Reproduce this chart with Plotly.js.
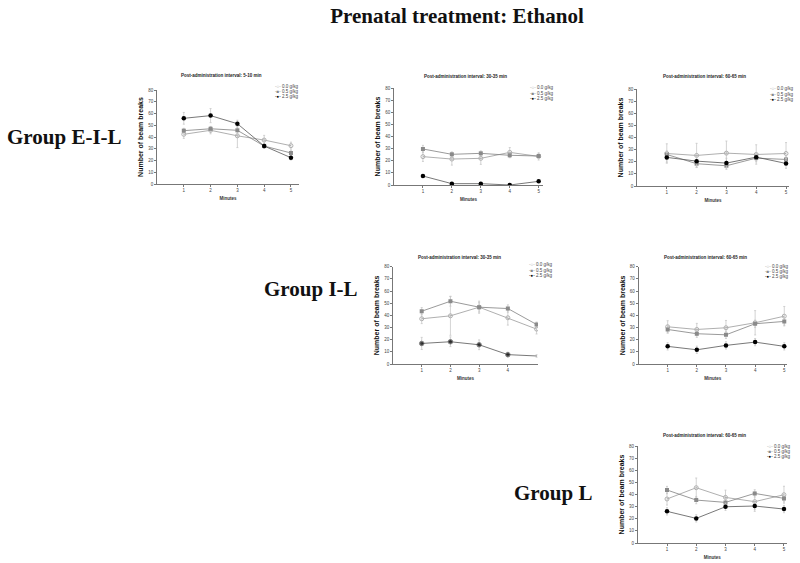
<!DOCTYPE html>
<html>
<head>
<meta charset="utf-8">
<script src="https://cdn.plot.ly/plotly-3.0.1.min.js"></script>
<style>html,body{margin:0;padding:0;background:#fff;}#chart{width:800px;height:563px;}</style>
</head>
<body>
<div id="chart"></div>
<script>
// ---- data ----
const minutes = [1, 2, 3, 4, 5];
const doses = ["0.0 g/kg", "0.5 g/kg", "2.5 g/kg"];
const groupLabels = ["Group E-I-L", "Group I-L", "Group L"];
const panelTitles = [
  "Post-administration interval: 5-10 min",
  "Post-administration interval: 30-35 min",
  "Post-administration interval: 60-65 min",
  "Post-administration interval: 30-35 min",
  "Post-administration interval: 60-65 min",
  "Post-administration interval: 60-65 min"
];
const yTicks = [0, 10, 20, 30, 40, 50, 60, 70, 80];

// Group E-I-L, 5-10 min
const p1_00 = [42.3, 45.7, 41.0, 37.4, 32.6];
const p1_05 = [45.4, 47.0, 45.7, 32.3, 26.4];
const p1_25 = [55.9, 58.2, 51.3, 32.3, 22.4];
const e1_00 = [3.5, 3, 10, 4, 3];
const e1_05 = [2, 2, 3, 2, 2];
const e1_25 = [5, 6, 3, 2, 2];
// Group E-I-L, 30-35 min
const p2_00 = [23.4, 21.4, 22.0, 26.9, 23.6];
const p2_05 = [29.7, 25.3, 26.1, 24.5, 23.9];
const p2_25 = [7.4, 1.1, 1.1, 0.0, 3.0];
const e2_00 = [4, 5, 5, 4, 3];
const e2_05 = [3, 2, 2, 2, 2];
const e2_25 = [1, 0.5, 0.5, 0.5, 1];
// Group E-I-L, 60-65 min
const p3_00 = [26.8, 25.2, 27.1, 26.0, 26.8];
const p3_05 = [26.0, 18.4, 16.7, 23.0, 21.9];
const p3_25 = [23.6, 20.5, 18.9, 23.8, 18.6];
const e3_00 = [8, 10, 10, 8, 9];
const e3_05 = [3, 3, 3, 3, 3];
const e3_25 = [4, 4, 4, 3, 4];
// Group I-L, 30-35 min
const p4_00 = [37.2, 39.6, 46.7, 38.0, 28.7];
const p4_05 = [43.4, 51.6, 46.7, 45.6, 32.5];
const p4_25 = [16.9, 18.3, 15.8, 7.7, 6.6];
const e4_00 = [4, 16, 5, 6, 4];
const e4_05 = [3, 4, 4, 3, 2];
const e4_25 = [5, 4, 4, 2, 1];
// Group I-L, 60-65 min
const p5_00 = [30.6, 28.4, 29.8, 33.9, 39.3];
const p5_05 = [28.4, 24.9, 24.0, 33.1, 35.0];
const p5_25 = [14.5, 11.7, 15.3, 18.0, 14.5];
const e5_00 = [5, 5, 6, 10, 8];
const e5_05 = [3, 3, 3, 3, 3];
const e5_25 = [3, 3, 3, 3, 3];
// Group L, 60-65 min
const p6_00 = [36.3, 45.6, 37.6, 34.1, 39.8];
const p6_05 = [43.7, 35.4, 33.5, 40.9, 36.8];
const p6_25 = [26.1, 20.3, 29.9, 30.5, 28.0];
const e6_00 = [5, 8, 6, 8, 7];
const e6_05 = [3, 3, 3, 3, 3];
const e6_25 = [3, 3, 3, 3, 3];

const seriesByPanel = [
  [p1_00, p1_05, p1_25], [p2_00, p2_05, p2_25], [p3_00, p3_05, p3_25],
  [p4_00, p4_05, p4_25], [p5_00, p5_05, p5_25], [p6_00, p6_05, p6_25]
];
const errorsByPanel = [
  [e1_00, e1_05, e1_25], [e2_00, e2_05, e2_25], [e3_00, e3_05, e3_25],
  [e4_00, e4_05, e4_25], [e5_00, e5_05, e5_25], [e6_00, e6_05, e6_25]
];

// ---- layout geometry (pixels) ----
const W = 800, H = 563;
// [xLeft, xRight, yTop(80), yBottom(0), xRangeMax]
const panels = [
  [157, 299, 90, 184, 5.3],
  [394, 543, 88, 185, 5.15],
  [637, 789, 89, 186, 5.1],
  [393, 538, 266.7, 364, 5.05],
  [638.5, 787.2, 266.7, 364, 5.1],
  [637.75, 786.9, 446, 543, 5.1]
];
const titlePos = [[221, 75], [465, 77], [704, 77], [459, 257], [705, 257], [704, 435]];
const legendPos = [[273, 86], [528, 88], [768, 89], [527, 265], [763, 266], [765, 446]];
const xTickSets = [minutes, minutes, minutes, [1, 2, 3, 4], minutes, minutes];
const groupPos = [[5, 137], [262, 289], [512, 493]];

const styles = [
  {line: '#9a9a9a', marker: {symbol: 'circle-open', color: '#b0b0b0', size: 4, line: {width: 1, color: '#b0b0b0'}}, glyph: '-○-', gc: '#aaaaaa'},
  {line: '#808080', marker: {symbol: 'square', color: '#8a8a8a', size: 4}, glyph: '-■-', gc: '#888888'},
  {line: '#555555', marker: {symbol: 'circle', color: '#000000', size: 4.5}, glyph: '-●-', gc: '#000000'}
];

const px2x = p => p / W;
const px2y = p => 1 - p / H;

const traces = [];
const layout = {
  width: W, height: H,
  margin: {l: 0, r: 0, t: 0, b: 0},
  paper_bgcolor: '#ffffff', plot_bgcolor: '#ffffff',
  showlegend: false,
  font: {family: 'Liberation Sans, Arial, sans-serif', color: '#333'},
  title: {
    text: 'Prenatal treatment: Ethanol',
    font: {family: 'Liberation Serif, Times New Roman, serif', size: 21, color: '#111', weight: 'bold'},
    x: 457 / W, xanchor: 'center', y: px2y(16), yanchor: 'middle'
  },
  annotations: []
};

panels.forEach((p, i) => {
  const n = i + 1;
  const xa = n === 1 ? 'x' : 'x' + n, ya = n === 1 ? 'y' : 'y' + n;
  const xk = n === 1 ? 'xaxis' : 'xaxis' + n, yk = n === 1 ? 'yaxis' : 'yaxis' + n;
  layout[xk] = {
    domain: [px2x(p[0]), px2x(p[1])], anchor: ya, range: [0, p[4]],
    tickvals: xTickSets[i], ticktext: xTickSets[i].map(String),
    ticks: 'outside', ticklen: 2, tickwidth: 0.8, tickcolor: '#555',
    showline: true, linecolor: '#555', linewidth: 0.8, showgrid: false, zeroline: false,
    tickfont: {size: 4.5, color: '#444'},
    title: {text: 'Minutes', font: {size: 4.5, color: '#333', weight: 'bold'}, standoff: 4}
  };
  layout[yk] = {
    domain: [px2y(p[3]), px2y(p[2])], anchor: xa, range: [0, 80],
    tickvals: yTicks, ticks: 'outside', ticklen: 2, tickwidth: 0.8, tickcolor: '#555',
    showline: true, linecolor: '#555', linewidth: 0.8, showgrid: false, zeroline: false,
    tickfont: {size: 4.5, color: '#444'},
    title: {text: 'Number of beam breaks', font: {size: 7, color: '#111', weight: 'bold'}, standoff: 3}
  };
  seriesByPanel[i].forEach((vals, s) => {
    const st = styles[s];
    const mk = JSON.parse(JSON.stringify(st.marker));
    if (i === 3 && s === 2) mk.size = [4.5, 4.5, 4.5, 4.5, 0];
    traces.push({
      type: 'scatter', mode: 'lines+markers', x: minutes, y: vals,
      xaxis: xa, yaxis: ya, name: doses[s],
      line: {color: st.line, width: 0.8},
      marker: mk,
      error_y: {type: 'data', array: errorsByPanel[i][s], visible: true, color: '#c8c8c8', thickness: 0.8, width: 1}
    });
  });
  layout.annotations.push({
    xref: 'paper', yref: 'paper', x: px2x(titlePos[i][0]), y: px2y(titlePos[i][1]),
    xanchor: 'center', yanchor: 'middle', showarrow: false,
    text: panelTitles[i], font: {size: 4.5, color: '#222', weight: 'bold'}
  });
  doses.forEach((d, s) => {
    layout.annotations.push({
      xref: 'paper', yref: 'paper', x: px2x(legendPos[i][0]), y: px2y(legendPos[i][1] + s * 5.3),
      xanchor: 'left', yanchor: 'middle', showarrow: false,
      text: "<span style='color:" + styles[s].gc + "'>" + styles[s].glyph + "</span> " + d,
      font: {size: 4.5, color: '#444'}
    });
  });
});

groupLabels.forEach((g, i) => {
  layout.annotations.push({
    xref: 'paper', yref: 'paper', x: px2x(groupPos[i][0]), y: px2y(groupPos[i][1]),
    xanchor: 'left', yanchor: 'middle', showarrow: false, text: g,
    font: {family: 'Liberation Serif, Times New Roman, serif', size: 21, color: '#111', weight: 'bold'}
  });
});

Plotly.newPlot('chart', traces, layout, {displayModeBar: false, staticPlot: true});
</script>
</body>
</html>
